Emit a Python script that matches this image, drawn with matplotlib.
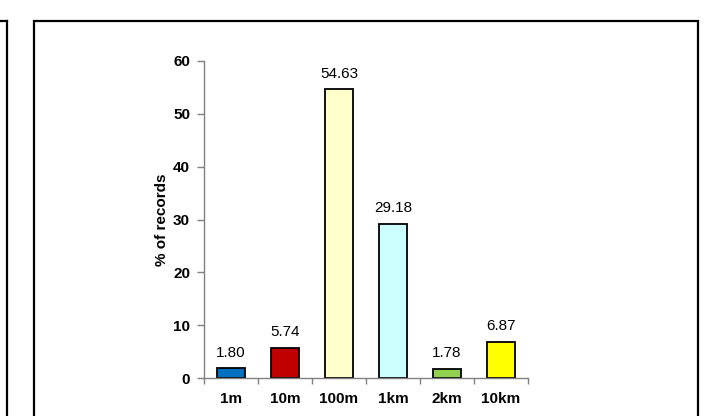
import matplotlib.pyplot as plt
from matplotlib.patches import Rectangle
from matplotlib.lines import Line2D

plt.rcParams['font.family'] = ['Liberation Sans', 'DejaVu Sans']

categories = ['1m', '10m', '100m', '1km', '2km', '10km']
values = [1.80, 5.74, 54.63, 29.18, 1.78, 6.87]
colors = ['#0070C0', '#C00000', '#FFFFCC', '#CCFFFF', '#92D050', '#FFFF00']
yticks = [0, 10, 20, 30, 40, 50, 60]

fig = plt.figure(figsize=(7.28, 4.16), dpi=100)
ax = fig.add_axes([204 / 728, 1 - 378 / 416, 324 / 728, 317 / 416])

x = range(len(categories))
ax.bar(x, values, width=0.52, color=colors, edgecolor='black', linewidth=1.3)
for i, v in enumerate(values):
    ax.annotate(f'{v:.2f}', (i, v), xytext=(0, 6), textcoords='offset points',
                ha='center', va='bottom', fontsize=11)

ax.set_xlim(-0.5, len(categories) - 0.5)
ax.set_ylim(0, 60)
ax.set_yticks(yticks)
ax.set_xticks(x)
ax.set_xticklabels(categories, fontsize=11, fontweight='bold')
ax.set_xticks([i - 0.5 for i in range(len(categories) + 1)], minor=True)
ax.tick_params(axis='x', which='major', length=0, pad=10)
ax.tick_params(axis='x', which='minor', length=4, color='#808080', width=1)
ax.tick_params(axis='y', length=5, color='#808080', width=1, labelsize=11, pad=5)
for lab in ax.get_yticklabels():
    lab.set_fontweight('bold')
ax.set_ylabel('% of records', fontsize=11, fontweight='bold', labelpad=3)

for s in ['top', 'right']:
    ax.spines[s].set_visible(False)
for s in ['left', 'bottom']:
    ax.spines[s].set_color('#808080')
    ax.spines[s].set_linewidth(1)

# chart frame and neighbouring chart edge
fig.patches.append(Rectangle((34 / 728, -0.05), 664 / 728, 1.05 - 21 / 416,
                             transform=fig.transFigure, fill=False,
                             edgecolor='black', linewidth=1.6))
fig.lines.append(Line2D([7 / 728, 7 / 728], [-0.05, 1 - 21 / 416],
                        transform=fig.transFigure, color='black', linewidth=1.6))
fig.lines.append(Line2D([0, 7 / 728], [1 - 21 / 416, 1 - 21 / 416],
                        transform=fig.transFigure, color='black', linewidth=1.6))

fig.savefig('out.png', dpi=100)
